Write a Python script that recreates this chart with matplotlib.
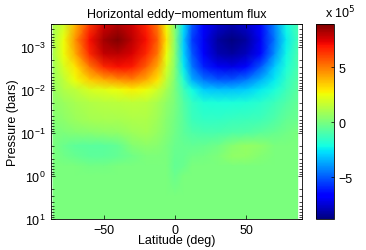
import numpy as np
import matplotlib
matplotlib.use('Agg')
import matplotlib.pyplot as plt

plt.rcParams['font.family'] = ['Liberation Sans', 'DejaVu Sans']
plt.rcParams['font.size'] = 9

# latitude columns (deg) and pressure rows (bars)
lats = [-85.5, -78, -70, -60, -50, -40, -30, -20, -12, -6, 0, 6, 12, 20, 30, 40, 50, 60, 70, 78, 86]
pres = [3e-4, 7e-4, 1.5e-3, 3e-3, 6e-3, 1e-2, 2e-2, 5e-2, 0.1, 0.2, 0.35, 0.6, 1.0, 3.0, 10.0]

# eddy-momentum flux, units of 1e5 (rows follow pres, columns follow lats)
flux = [
    [1.0, 1.8, 3.8, 6.2, 7.6, 8.1, 7.6, 6.6, 5.0, 2.6, 0.2, -2.6, -5.0, -6.6, -7.6, -8.0, -7.6, -6.5, -4.2, -2.2, -1.1],
    [1.0, 2.5, 4.5, 7.0, 8.3, 8.9, 8.0, 7.0, 5.5, 3.0, 0.3, -3.0, -5.5, -7.0, -8.3, -8.8, -8.3, -7.0, -4.5, -2.5, -1.2],
    [1.0, 2.5, 4.0, 6.5, 7.8, 8.0, 7.5, 6.5, 5.0, 2.5, 0.3, -2.8, -5.0, -6.8, -8.0, -8.3, -7.8, -6.5, -4.0, -2.3, -1.0],
    [0.8, 2.0, 3.0, 5.0, 6.5, 7.0, 6.8, 5.5, 4.0, 2.0, 0.2, -2.5, -4.5, -6.0, -7.0, -7.2, -6.5, -5.0, -3.0, -2.0, -1.0],
    [0.7, 1.5, 2.5, 3.5, 4.0, 4.5, 4.8, 4.0, 3.0, 1.5, 0.1, -1.8, -3.5, -4.5, -5.0, -5.0, -4.5, -3.5, -2.5, -1.6, -0.8],
    [0.6, 1.2, 1.5, 2.0, 2.2, 2.5, 2.8, 2.5, 1.8, 1.0, 0.0, -1.2, -2.2, -3.0, -3.2, -3.2, -3.0, -2.5, -2.0, -1.3, -0.7],
    [0.4, 0.7, 1.0, 1.2, 1.3, 1.4, 1.5, 1.4, 1.0, 0.5, 0.0, -0.8, -1.5, -1.9, -2.0, -2.0, -1.9, -1.7, -1.3, -0.9, -0.5],
    [0.2, 0.4, 0.7, 0.9, 1.0, 1.0, 1.1, 1.1, 0.8, 0.3, -0.1, -0.7, -1.3, -1.5, -1.5, -1.4, -1.3, -1.2, -0.9, -0.5, -0.3],
    [0.0, 0.1, 0.2, 0.3, 0.4, 0.5, 0.8, 0.9, 0.6, 0.2, -0.2, -0.6, -0.9, -1.0, -1.0, -0.9, -0.8, -0.6, -0.4, -0.2, 0.0],
    [0.0, -0.3, -0.6, -0.7, -0.7, -0.5, 0.2, 0.4, 0.3, 0.0, -0.3, -0.4, -0.5, -0.4, -0.2, 0.3, 0.6, 0.4, 0.0, 0.0, 0.0],
    [0.0, -0.2, -0.4, -0.6, -0.6, -0.5, -0.2, 0.1, 0.1, 0.0, -0.4, -0.4, -0.2, -0.1, 0.1, 0.5, 0.5, 0.2, 0.0, 0.0, 0.0],
    [0.0, 0.0, 0.0, -0.1, -0.1, 0.0, 0.0, 0.0, 0.0, 0.0, -0.5, -0.3, 0.0, 0.0, 0.0, 0.0, 0.0, 0.0, 0.0, 0.0, 0.0],
    [0.0, 0.0, 0.0, 0.0, 0.0, 0.0, 0.0, 0.0, 0.0, 0.0, -0.3, 0.0, 0.0, 0.0, 0.0, 0.0, 0.0, 0.0, 0.0, 0.0, 0.0],
    [0.0] * 21,
    [0.0] * 21,
]

vmin, vmax = -8.8, 8.9

fig = plt.figure(figsize=(3.66, 2.51), dpi=100)
ax = fig.add_axes([0.139, 0.1235, 0.686, 0.7765])
cax = fig.add_axes([0.863, 0.1235, 0.049, 0.7765])

mesh = ax.pcolormesh(lats, pres, np.array(flux), shading='gouraud',
                     cmap='jet', vmin=vmin, vmax=vmax)
ax.set_yscale('log')
ax.set_ylim(10, 3e-4)
ax.set_xlim(-87, 89)
ax.set_xticks([-50, 0, 50])
ax.set_yticks([1e-3, 1e-2, 1e-1, 1, 10])
ax.tick_params(which='both', direction='in', top=True, right=True, length=2, width=0.5)
ax.tick_params(which='major', length=3)
for s in ax.spines.values():
    s.set_linewidth(0.6)
ax.set_xlabel('Latitude (deg)', labelpad=-1)
ax.set_ylabel('Pressure (bars)', labelpad=1)
ax.set_title('Horizontal eddy\u2212momentum flux', fontsize=9, pad=5)

cb = fig.colorbar(mesh, cax=cax, ticks=[-5, 0, 5])
cb.ax.tick_params(direction='in', length=2, width=0.5)
cb.outline.set_linewidth(0.6)
fig.text(0.93, 0.915, r'x 10$^5$', ha='center', va='bottom', fontsize=9)

fig.savefig('out.png', dpi=100)
